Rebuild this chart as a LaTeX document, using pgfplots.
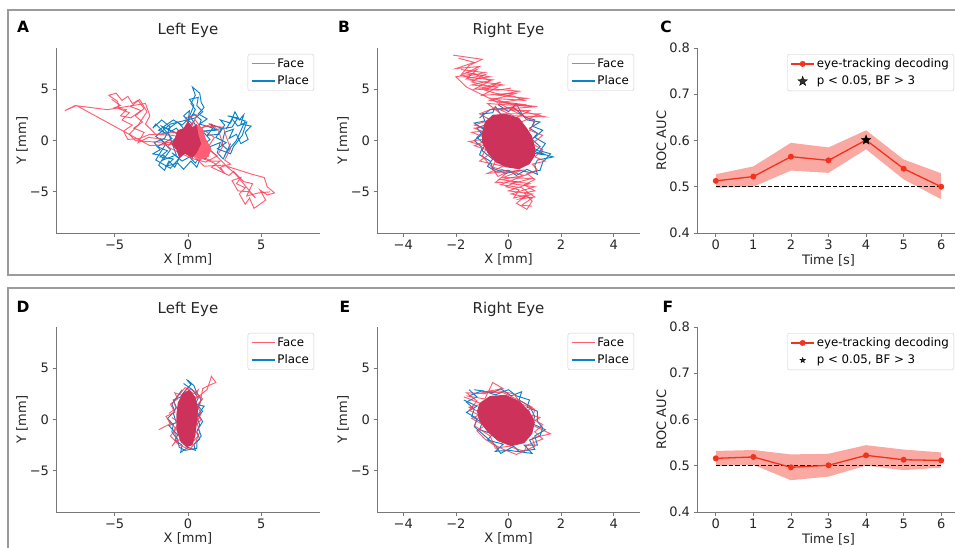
\documentclass[border=0pt]{standalone}
\usepackage{fontspec}
\setmainfont{DejaVu Sans}
\usepackage{pgfplots}
\pgfplotsset{compat=1.18}

\definecolor{placec}{RGB}{10,130,200}
\definecolor{facec}{RGB}{255,55,80}
\definecolor{corec}{RGB}{205,50,90}
\definecolor{lightpink}{RGB}{255,95,115}
\definecolor{linec}{RGB}{240,50,30}
\definecolor{spinec}{RGB}{120,120,120}
\definecolor{framec}{RGB}{155,155,155}

\pgfdeclareplotmark{fstar}{%
  \pgfpathmoveto{\pgfpointpolar{90}{\pgfplotmarksize}}%
  \pgfpathlineto{\pgfpointpolar{126}{0.4\pgfplotmarksize}}%
  \pgfpathlineto{\pgfpointpolar{162}{\pgfplotmarksize}}%
  \pgfpathlineto{\pgfpointpolar{198}{0.4\pgfplotmarksize}}%
  \pgfpathlineto{\pgfpointpolar{234}{\pgfplotmarksize}}%
  \pgfpathlineto{\pgfpointpolar{270}{0.4\pgfplotmarksize}}%
  \pgfpathlineto{\pgfpointpolar{306}{\pgfplotmarksize}}%
  \pgfpathlineto{\pgfpointpolar{342}{0.4\pgfplotmarksize}}%
  \pgfpathlineto{\pgfpointpolar{18}{\pgfplotmarksize}}%
  \pgfpathlineto{\pgfpointpolar{54}{0.4\pgfplotmarksize}}%
  \pgfpathclose\pgfusepathqfillstroke}

\pgfplotsset{
  myax/.style={
    scale only axis, height=185pt,
    /pgf/number format/assume math mode=true,
    axis lines=left, axis line style={-, spinec, line width=0.8pt},
    tick align=outside, major tick length=3.5pt,
    tick style={spinec, line width=0.8pt},
    tick label style={font=\fontsize{13}{15}\selectfont, text=black!85},
    title style={font=\fontsize{15}{17}\selectfont, text=black!85, at={(0.5,1)}, anchor=south, yshift=1pt},
    legend style={at={(1,1)}, anchor=north east, xshift=-6pt, yshift=-6pt,
      draw=black!20, rounded corners=2pt, fill=white, fill opacity=0.8, text opacity=1,
      font=\fontsize{11.8}{13}\selectfont, inner xsep=3pt, inner ysep=2.5pt, row sep=3pt,
      cells={anchor=west}},
    every axis y label/.style={at={(axis description cs:-0.129,0.5)}, rotate=90, anchor=center,
      font=\fontsize{13}{15}\selectfont, text=black!85},
    every axis x label/.style={at={(axis description cs:0.5,-0.143)}, anchor=center,
      font=\fontsize{13}{15}\selectfont, text=black!85},
  },
  eyeax/.style={myax,
    ymin=-9, ymax=9, ytick={-5,0,5}, yticklabels={−5,0,5},
    xlabel={X [mm]}, ylabel={Y [mm]},
    legend image code/.code={\draw[##1, line width=1.5pt] (0pt,0pt) -- (23pt,0pt);},
  },
  rocax/.style={myax, width=263pt,
    xmin=-0.5, xmax=6.5, ymin=0.4, ymax=0.8,
    xtick={0,1,2,3,4,5,6}, xticklabels={0,1,2,3,4,5,6},
    ytick={0.4,0.5,0.6,0.7,0.8}, yticklabels={0.4,0.5,0.6,0.7,0.8},
    xlabel={Time [s]}, ylabel={ROC AUC},
    every axis y label/.style={at={(axis description cs:-0.135,0.5)}, rotate=90, anchor=center,
      font=\fontsize{13}{15}\selectfont, text=black!85},
    every axis x label/.style={at={(axis description cs:0.5,-0.15)}, anchor=center,
      font=\fontsize{13}{15}\selectfont, text=black!85},
  },
  plc/.style={placec, line width=0.95pt, forget plot},
  fac/.style={facec, opacity=0.8, line width=0.95pt, forget plot},
  core/.style={draw=none, fill=corec, forget plot},
}

\begin{document}
\begin{tikzpicture}[x=1pt,y=1pt]
\useasboundingbox (0,0) rectangle (955,547);
\draw[framec, line width=1.8pt] (8,272) rectangle (975,537);
\draw[framec, line width=1.8pt] (8,259) rectangle (975,-20);

% ---------------- A ----------------
\begin{axis}[eyeax, at={(56pt,314pt)}, anchor=south west, width=264pt,
  xmin=-9, xmax=9, xtick={-5,0,5}, xticklabels={−5,0,5}, title={Left Eye}]
\addlegendimage{facec, opacity=0.8}\addlegendentry{Face}
\addlegendimage{placec}\addlegendentry{Place}
\addplot[plc] coordinates {(0,0) (-0.8,1.2) (-1.5,0.6) (-2.2,1.6) (-2.4,1.2) (-1.8,2.0) (-1.2,1.3) (-1.6,0.2) (-2.3,-0.2) (-1.9,-0.9) (-2.4,-1.3) (-1.6,-1.5) (-2.0,-2.4) (-1.6,-2.9) (-1.3,-2.0) (-0.9,-2.6) (-0.6,-1.7) (-1.1,-1.2) (-0.4,-2.0) (0.1,-1.6) (0.5,-2.2) (0.9,-1.4) (0.4,-0.6) (1.0,0.3) (0.6,1.3) (0.2,2.2) (0.5,3.0) (0.2,3.6) (0.5,4.4) (0.3,5.2) (0.8,4.6) (0.9,3.7) (1.1,3.2) (0.7,2.6) (1.3,2.1) (0.8,1.6) (1.7,1.2) (1.3,0.5) (2.1,0.6) (2.5,1.5) (2.2,2.0) (2.9,1.7) (3.2,2.8) (3.5,2.0) (3.8,2.5) (3.6,1.6) (4.3,1.4) (3.9,0.8) (4.1,0.1) (3.6,-0.3) (3.3,0.6) (2.8,0.2) (3.1,1.1) (2.5,0.8) (2.3,-0.4) (2.7,-0.9) (2.4,-1.8) (2.0,-1.2) (2.2,-0.2) (1.5,-0.6) (1.2,-1.8) (0.5,-1.2) (-0.2,-0.8) (-1.2,-0.3) (-0.6,0.6) (-1.4,1.1) (-0.7,1.8) (-0.2,1.0) (0.3,1.6) (-0.3,2.4) (0.1,2.9) (0.0,1.8)};
\addplot[plc] coordinates {(-1.9,0.2) (-1.2,-0.9) (-1.7,-1.9) (-0.8,-1.4) (-1.3,0.6) (-2.0,1.0) (-1.0,2.0) (-0.4,1.5) (0.4,2.6) (0.9,2.0) (0.6,0.8) (3.0,1.3) (3.4,2.2) (2.7,2.4) (3.9,1.9) (3.3,0.0) (2.6,-1.2) (2.9,-0.3)};
\addplot[plc] coordinates {(-0.5,0.5) (-1.8,1.4) (-1.1,0.2) (-2.1,-0.6) (-1.4,-1.0) (-1.9,-1.6) (-1.0,-1.8) (-1.5,-2.5) (-0.7,-2.2) (-0.3,-2.8) (0.2,-2.0) (0.6,-2.6) (0.8,-1.9) (1.3,-1.2) (0.9,-0.6) (1.5,0.1) (1.0,0.9) (1.9,1.0) (1.5,1.6) (2.3,1.2) (1.9,0.3) (2.6,-0.2) (2.0,-0.8) (2.9,-1.3) (3.1,-0.6) (3.7,0.5) (4.0,1.8) (3.4,1.4) (3.0,2.1) (2.6,1.1)};
\addplot[plc] coordinates {(0.0,2.0) (0.4,3.4) (0.1,4.0) (0.7,4.2) (0.6,3.4) (1.0,2.8) (0.5,2.2) (-1.2,1.6) (-2.2,0.4) (-1.5,-0.3) (-2.2,-1.9) (-1.2,-2.7) (-0.4,-1.4)};
\addplot[fac] coordinates {(0.0,0.0) (-1.0,0.5) (-2.6,0.6) (-3.3,0.2) (-4.1,0.1) (-4.4,0.9) (-3.8,1.5) (-4.5,2.0) (-4.0,2.7) (-4.7,3.1) (-4.8,3.8) (-5.4,4.4) (-4.9,4.6) (-4.5,3.9) (-4.1,4.3) (-3.8,3.6) (-3.4,3.9) (-3.0,3.1) (-3.6,2.4) (-3.1,1.8) (-3.7,1.2) (-3.0,0.8) (-3.4,-0.2) (-2.7,0.3) (-1.5,0.1) (-0.5,-0.3) (-2.6,-0.5) (-7.6,3.4) (-8.4,2.9) (-7.7,3.4) (-5.5,3.0) (-2.9,3.6) (-2.6,2.4) (-2.9,1.6) (-2.2,0.6) (-0.8,0.8) (0.5,1.0) (1.2,1.4) (2.4,1.3) (2.6,0.4) (2.9,-0.8) (2.5,-1.9) (2.9,-2.3) (2.2,-2.6) (2.5,-3.2) (1.8,-2.2) (0.9,-1.7) (0.0,-1.0) (1.1,-2.5) (2.4,-2.4) (4.4,-3.3) (5.2,-3.6) (5.4,-4.5) (5.9,-5.1) (5.4,-5.3) (4.9,-4.8) (5.3,-5.8) (4.5,-6.6) (4.2,-5.6) (3.9,-6.2) (3.5,-5.2) (3.9,-4.6) (3.3,-4.2) (3.6,-3.6) (3.0,-3.9) (3.4,-4.9) (4.2,-5.0) (4.6,-5.6) (3.2,-3.2) (2.7,-2.6) (1.8,-1.3) (1.2,-0.5) (0.6,0.4) (-0.2,2.2) (0.6,2.5) (0.2,1.2)};
\addplot[fac] coordinates {(-5.2,4.0) (-4.6,3.4) (-5.0,3.2) (-4.2,3.0) (-4.6,2.4) (-3.9,2.2) (-3.2,2.9) (-3.9,3.3) (-3.3,4.0) (-2.8,2.8) (-3.4,1.5) (-4.0,0.6) (-3.6,0.0) (-2.9,-0.1) (-1.2,-0.2) (1.6,-2.0) (2.2,-2.0) (1.6,-2.6) (2.8,-3.4) (3.1,-3.0) (3.8,-4.0) (4.4,-4.2) (4.0,-5.4) (4.8,-5.1) (5.6,-5.0)};
\addplot[fac] coordinates {(-1.0,0.0) (0.2,0.9) (1.2,0.9) (1.8,0.3) (1.3,-0.8) (2.0,-1.5) (1.2,-2.1) (0.4,-1.8) (-0.6,-1.2) (-1.4,-0.6) (-0.7,0.4) (0.5,2.0) (0.9,1.2) (1.6,1.6) (2.1,0.9) (2.4,-0.5) (2.1,-1.2)};
\addplot[draw=none, fill=lightpink, forget plot] coordinates {(0.5,1.6) (1.0,1.2) (1.2,0.2) (1.6,-0.8) (1.4,-1.6) (0.8,-1.9) (0.4,-1.5) (0.7,-0.3)} -- cycle;
\addplot[core] coordinates {(-0.9,0.2) (-0.7,1.0) (-0.3,1.2) (0.0,1.9) (0.3,1.3) (0.6,1.6) (0.7,0.6) (0.9,-0.3) (0.6,-1.2) (0.3,-1.7) (-0.2,-1.3) (-0.6,-1.7) (-0.8,-0.9) (-1.1,-0.4)} -- cycle;
\end{axis}

% ---------------- B ----------------
\begin{axis}[eyeax, at={(377pt,314pt)}, anchor=south west, width=263pt,
  xmin=-5, xmax=5, xtick={-4,-2,0,2,4}, xticklabels={−4,−2,0,2,4}, title={Right Eye}]
\addlegendimage{facec, opacity=0.8}\addlegendentry{Face}
\addlegendimage{placec}\addlegendentry{Place}
\addplot[plc] coordinates {(-0.4,3.5) (0.0,2.8) (0.3,3.6) (0.5,2.6) (0.7,2.0) (1.2,1.8) (0.8,1.2) (1.1,0.7) (0.9,0.1) (1.2,-0.6) (1.0,-1.1) (1.7,-1.6) (1.1,-1.9) (1.0,-2.4) (1.1,-3.3) (0.7,-2.8) (0.3,-3.4) (0.0,-2.9) (-0.5,-3.0) (-0.8,-2.5) (-0.6,-1.8) (-1.0,-1.0) (-0.9,-0.4) (-1.2,0.3) (-0.9,1.0) (-1.3,1.7) (-0.9,1.9) (-1.0,2.6) (-0.6,2.7) (-0.5,3.3) (-0.2,2.2) (0.6,1.0) (0.2,-0.5) (-0.4,-1.2) (0.5,-2.0) (0.8,-1.2) (1.4,-1.4) (0.6,-0.2) (-0.3,0.8) (-0.8,2.2)};
\addplot[plc] coordinates {(-1.1,2.2) (-0.7,3.0) (0.2,3.2) (0.6,2.3) (1.0,2.0) (0.9,1.4) (1.3,1.0) (1.0,0.3) (1.4,-0.3) (1.2,-1.0) (1.6,-1.3) (1.3,-2.1) (1.2,-2.9) (0.8,-3.1) (0.4,-2.9) (-0.1,-3.2) (-0.6,-2.7) (-0.7,-2.0) (-1.1,-1.4) (-1.0,-0.7) (-1.3,0.0) (-1.0,0.6) (-1.2,1.2) (-0.9,1.5)};
\addplot[fac] coordinates {(-2.1,8.3) (-1.0,7.9) (-1.5,7.3) (-1.8,6.4) (-1.2,6.9) (-1.6,6.0) (-0.9,6.4) (-1.4,5.7) (-0.8,5.3) (-0.3,5.7) (-0.9,4.9) (-0.5,4.6) (0.2,4.3) (0.6,3.9) (-0.6,4.1) (0.0,3.6) (1.1,3.3) (0.1,3.1) (1.4,2.3) (0.2,2.4) (-0.5,3.2) (-1.1,2.6) (-0.7,2.0) (-1.3,1.5) (-0.6,1.0) (-1.4,0.8) (-0.8,0.2) (-1.5,-0.1) (-0.8,-0.6) (-1.0,-1.5) (-0.7,-2.4) (-0.4,-3.5) (0.0,-3.0) (-0.5,-4.1) (0.3,-4.0) (-0.1,-4.5) (0.4,-4.8) (0.2,-5.6) (0.7,-5.3) (0.3,-6.1) (0.7,-6.7) (0.9,-5.9) (0.6,-5.1) (1.0,-4.9) (0.6,-4.3) (1.0,-3.8) (0.7,-3.2) (1.1,-2.9) (0.9,-2.3) (1.4,-2.0) (1.0,-1.6) (1.3,-0.9) (0.9,-0.3) (1.3,0.5) (0.8,1.0) (1.0,1.8) (0.4,2.6) (-0.2,3.4) (-0.8,4.2) (-1.6,5.2) (-2.0,6.2) (-1.3,6.5) (-0.7,5.8) (-1.3,5.0) (-0.4,4.9) (0.1,5.1)};
\addplot[fac] coordinates {(-1.8,6.9) (-0.9,6.6) (-1.7,6.2) (-0.6,5.9) (-1.4,5.4) (-0.4,5.2) (-1.0,4.4) (0.3,4.6) (-0.7,3.9) (0.6,3.5) (-0.4,3.0) (0.8,2.9) (0.2,2.1) (-0.6,-2.6) (0.6,-3.4) (-0.3,-3.8) (0.8,-4.2) (0.0,-4.9) (0.9,-5.2) (0.4,-5.7) (1.0,-5.5) (0.5,-4.6) (-0.3,-4.3) (0.4,-3.6) (1.0,-3.0)};
\addplot[fac] coordinates {(-1.9,8.0) (-1.3,7.6) (-2.0,7.0) (-1.1,7.2) (-1.6,6.6) (-0.7,6.2) (-1.5,5.9) (-0.2,5.4) (-1.1,5.1) (0.4,4.8) (-0.4,4.4) (0.7,4.1) (-0.3,3.7) (0.9,3.3) (-0.8,3.6) (-0.3,2.6) (1.2,2.6) (0.3,1.6) (-1.3,1.2) (-0.5,0.4) (-1.3,-0.5) (-0.6,-1.1) (-1.1,-2.0) (-0.2,-2.5) (-0.8,-3.2) (0.5,-2.9) (-0.2,-3.6) (0.9,-3.7) (0.1,-4.2) (1.0,-4.5) (0.1,-5.2) (0.9,-5.6) (0.5,-6.3) (0.9,-6.4)};
\addplot[core] coordinates {(-0.9,1.8) (-0.6,2.5) (-0.1,2.6) (0.4,2.2) (0.7,1.2) (0.9,0.4) (1.0,-0.6) (1.0,-1.5) (0.8,-2.3) (0.4,-2.8) (-0.1,-2.6) (-0.5,-2.1) (-0.8,-1.2) (-1.0,-0.2) (-1.0,0.8)} -- cycle;
\end{axis}

% ---------------- C ----------------
\begin{axis}[rocax, at={(697pt,314pt)}, anchor=south west,
  legend image code/.code={\draw[mark repeat=2, mark phase=2, #1] plot coordinates {(0pt,0pt) (11.5pt,0pt) (23pt,0pt)};}]
\addplot[draw=none, fill=linec, fill opacity=0.42, forget plot] coordinates {(0,0.527) (1,0.544) (2,0.595) (3,0.585) (4,0.622) (5,0.559) (6,0.529) (6,0.473) (5,0.516) (4,0.581) (3,0.530) (2,0.535) (1,0.500) (0,0.498)} -- cycle;
\addplot[black, dash pattern=on 4.5pt off 2pt, line width=1pt, forget plot] coordinates {(0,0.5) (6,0.5)};
\addplot[linec, line width=1.3pt, mark=*, mark size=2.3pt] coordinates {(0,0.5127) (1,0.522) (2,0.565) (3,0.557) (4,0.601) (5,0.539) (6,0.500)};
\addlegendentry{eye-tracking decoding}
\addplot[only marks, mark=fstar, mark size=5pt, black] coordinates {(4,0.601)};
\addlegendentry{p < 0.05, BF > 3}
\end{axis}

% ---------------- D ----------------
\begin{axis}[eyeax, at={(56pt,35pt)}, anchor=south west, width=264pt,
  xmin=-9, xmax=9, xtick={-5,0,5}, xticklabels={−5,0,5}, title={Left Eye}]
\addlegendimage{facec, opacity=0.8}\addlegendentry{Face}
\addlegendimage{placec}\addlegendentry{Place}
\addplot[plc] coordinates {(0.0,3.8) (0.4,3.3) (0.6,2.6) (0.9,1.9) (0.7,1.3) (1.0,0.8) (0.6,0.2) (0.8,-0.5) (0.6,-1.2) (0.8,-1.9) (0.4,-2.4) (0.5,-3.0) (0.0,-2.7) (-0.5,-3.2) (-0.4,-2.5) (-0.9,-2.0) (-0.7,-1.5) (-1.3,-0.6) (-0.8,-0.3) (-1.0,0.6) (-0.8,1.2) (-1.0,1.9) (-0.5,2.2) (-0.2,2.8) (0.2,3.4) (-0.1,3.9)};
\addplot[plc] coordinates {(-0.3,3.5) (0.3,2.9) (0.7,2.1) (0.5,1.5) (1.1,1.3) (0.7,0.5) (1.0,-0.2) (0.7,-0.9) (0.9,-1.6) (0.6,-2.2) (0.6,-2.8) (0.2,-2.9) (-0.2,-3.0) (-0.6,-2.7) (-0.7,-2.0) (-1.1,-1.2) (-1.0,-0.5) (-1.4,0.1) (-0.9,0.8) (-1.1,1.5) (-0.7,2.3) (-0.4,2.9)};
\addplot[fac] coordinates {(-2.0,-1.0) (-1.2,-0.4) (-1.5,0.3) (-0.9,0.7) (-1.2,1.5) (-0.7,2.0) (-0.9,2.6) (-0.3,2.3) (-0.1,3.0) (0.4,2.5) (0.7,2.9) (0.5,2.0) (1.3,2.9) (1.6,4.2) (1.9,3.6) (1.4,3.3) (1.0,3.0) (0.8,1.4) (0.5,0.6) (0.9,0.0) (0.4,-0.8) (0.7,-1.6) (0.3,-2.2) (-0.2,-1.7) (-0.9,-2.2) (-1.1,-2.6) (-0.7,-1.9) (-1.0,-1.1) (-0.6,-0.3) (-1.1,0.2)};
\addplot[fac] coordinates {(-1.3,-0.2) (-0.8,-0.9) (-1.2,-1.6) (-0.6,-2.5) (0.1,-2.9) (0.5,-2.3) (0.8,-1.2) (0.6,-0.3) (0.9,0.6) (0.6,1.4) (1.0,2.0) (0.4,2.8) (-0.2,3.1) (-0.6,2.4) (-1.0,1.8) (-0.8,1.1) (-1.3,0.6)};
\addplot[core] coordinates {(-0.4,2.5) (0.1,2.9) (0.5,2.2) (0.7,1.0) (0.6,-0.4) (0.5,-1.6) (0.3,-2.5) (-0.1,-2.7) (-0.5,-2.2) (-0.8,-1.0) (-0.8,0.4) (-0.7,1.6)} -- cycle;
\end{axis}

% ---------------- E ----------------
\begin{axis}[eyeax, at={(377pt,35pt)}, anchor=south west, width=263pt,
  xmin=-5, xmax=5, xtick={-4,-2,0,2,4}, xticklabels={−4,−2,0,2,4}, title={Right Eye}]
\addlegendimage{facec, opacity=0.8}\addlegendentry{Face}
\addlegendimage{placec}\addlegendentry{Place}
\addplot[plc] coordinates {(-1.3,2.9) (-0.6,2.6) (-0.3,3.0) (0.1,2.3) (0.5,2.7) (0.4,1.9) (0.8,1.3) (1.0,0.3) (0.9,-0.4) (1.4,-1.0) (1.0,-1.6) (1.1,-2.5) (0.6,-2.5) (0.9,-3.3) (0.0,-3.0) (-0.5,-3.1) (-0.2,-2.4) (-0.8,-2.0) (-0.6,-1.4) (-1.1,-1.0) (-1.0,-0.3) (-1.4,0.3) (-1.3,1.0) (-1.6,1.7) (-1.2,2.2) (-1.5,2.9)};
\addplot[plc] coordinates {(-1.5,2.3) (-1.0,2.8) (-0.5,2.4) (0.0,2.9) (0.3,2.3) (0.8,1.9) (0.7,1.2) (1.1,0.8) (1.1,-0.2) (1.3,-0.8) (1.2,-1.6) (0.8,-2.0) (1.0,-2.9) (0.4,-3.1) (0.2,-2.6) (-0.3,-3.3) (-0.5,-2.5) (-0.9,-1.6) (-1.3,-0.7) (-1.2,0.1) (-1.6,0.7) (-1.2,1.3) (-1.7,1.9)};
\addplot[fac] coordinates {(-1.6,2.3) (-0.9,2.0) (-0.6,3.6) (-0.2,3.0) (-0.9,2.7) (-0.2,2.6) (0.3,2.0) (0.9,1.2) (0.6,0.6) (1.2,0.2) (0.8,-0.4) (1.6,-1.4) (0.9,-1.8) (1.0,-2.6) (0.3,-3.4) (-0.2,-2.9) (-0.6,-2.4) (-0.9,-1.9) (-1.2,-1.1) (-0.9,-0.6) (-1.4,0.1) (-1.0,0.6) (-1.5,1.2) (-1.0,1.5) (-1.7,2.2)};
\addplot[fac] coordinates {(-1.3,2.5) (-0.4,2.8) (0.2,2.5) (0.5,1.5) (1.0,1.0) (0.9,0.1) (1.3,-0.5) (1.0,-1.2) (1.3,-1.9) (0.7,-2.5) (0.6,-3.1) (0.0,-2.6) (-0.5,-2.8) (-0.7,-1.6) (-1.3,-0.6) (-1.1,0.4) (-1.5,0.9) (-1.2,1.8) (-1.6,2.6) (-0.8,2.5)};
\addplot[core] coordinates {(-1.1,1.6) (-0.7,2.3) (-0.1,2.4) (0.4,1.8) (0.8,0.8) (1.0,-0.3) (0.9,-1.4) (0.6,-2.3) (0.1,-2.6) (-0.4,-2.1) (-0.8,-1.2) (-1.1,-0.2) (-1.2,0.8)} -- cycle;
\end{axis}

% ---------------- F ----------------
\begin{axis}[rocax, at={(697pt,35pt)}, anchor=south west,
  legend image code/.code={\draw[mark repeat=2, mark phase=2, #1] plot coordinates {(0pt,0pt) (11.5pt,0pt) (23pt,0pt)};}]
\addplot[draw=none, fill=linec, fill opacity=0.42, forget plot] coordinates {(0,0.532) (1,0.534) (2,0.5245) (3,0.526) (4,0.5445) (5,0.535) (6,0.5288) (6,0.4959) (5,0.4906) (4,0.5002) (3,0.4766) (2,0.4687) (1,0.502) (0,0.4995)} -- cycle;
\addplot[black, dash pattern=on 4.5pt off 2pt, line width=1pt, forget plot] coordinates {(0,0.5) (6,0.5)};
\addplot[linec, line width=1.3pt, mark=*, mark size=2.3pt] coordinates {(0,0.516) (1,0.519) (2,0.4966) (3,0.501) (4,0.5225) (5,0.513) (6,0.5115)};
\addlegendentry{eye-tracking decoding}
\addlegendimage{only marks, mark=fstar, mark size=2.8pt, black}
\addlegendentry{p < 0.05, BF > 3}
\end{axis}

% panel letters
\node[font=\bfseries\fontsize{15.5}{17}\selectfont] at (23,520) {A};
\node[font=\bfseries\fontsize{15.5}{17}\selectfont] at (344,520) {B};
\node[font=\bfseries\fontsize{15.5}{17}\selectfont] at (666,520) {C};
\node[font=\bfseries\fontsize{15.5}{17}\selectfont] at (23,240) {D};
\node[font=\bfseries\fontsize{15.5}{17}\selectfont] at (345,240) {E};
\node[font=\bfseries\fontsize{15.5}{17}\selectfont] at (668,240) {F};
\end{tikzpicture}
\end{document}
